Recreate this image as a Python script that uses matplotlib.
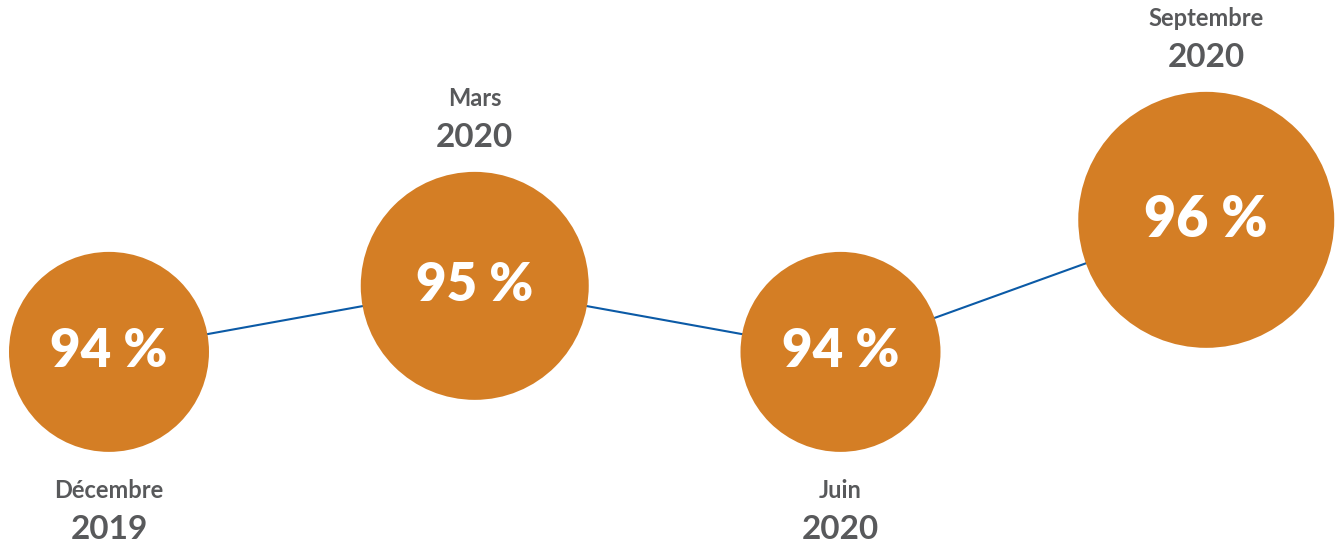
import numpy as np
import matplotlib.pyplot as plt

# Taux relevés à chaque trimestre
months = ['Décembre', 'Mars', 'Juin', 'Septembre']
years = ['2019', '2020', '2020', '2020']
rates = [94, 95, 94, 96]

orange = '#d47e25'
line_blue = '#0b5aa6'
grey = '#58595b'

fig = plt.figure(figsize=(13.35, 5.44), dpi=100)
ax = fig.add_axes([0, 0, 1, 1])

x = np.arange(len(rates))
ax.plot(x, rates, color=line_blue, lw=1.5, zorder=1)

# bubble radius (pixels) grows with the rate
radius = 100 + (np.array(rates) - 94) * 14
sizes = (2 * radius * 0.72) ** 2
ax.scatter(x, rates, s=sizes, color=orange, edgecolor='none', zorder=2)

for i, (m, yr, v, r) in enumerate(zip(months, years, rates, radius)):
    ax.text(i, v, f'{v} %', ha='center', va='center', color='white',
            fontsize=38 if v < 96 else 40, fontweight='heavy', family='Lato',
            zorder=3)
    rp = r * 0.72
    if i % 2 == 0:   # labels under the bubble
        off_m, off_y = -(rp + 28), -(rp + 56)
    else:            # labels above the bubble
        off_y, off_m = rp + 25, rp + 53
    ax.annotate(m, (i, v), xytext=(0, off_m), textcoords='offset points',
                ha='center', va='center', color=grey, fontsize=17,
                fontweight='bold', family='Lato')
    ax.annotate(yr, (i, v), xytext=(0, off_y), textcoords='offset points',
                ha='center', va='center', color=grey, fontsize=24,
                fontweight='bold', family='Lato')

ax.set_xlim(-0.298, 3.352)
ax.set_ylim(91.09, 99.33)
ax.axis('off')

fig.savefig('out.png', dpi=100)
